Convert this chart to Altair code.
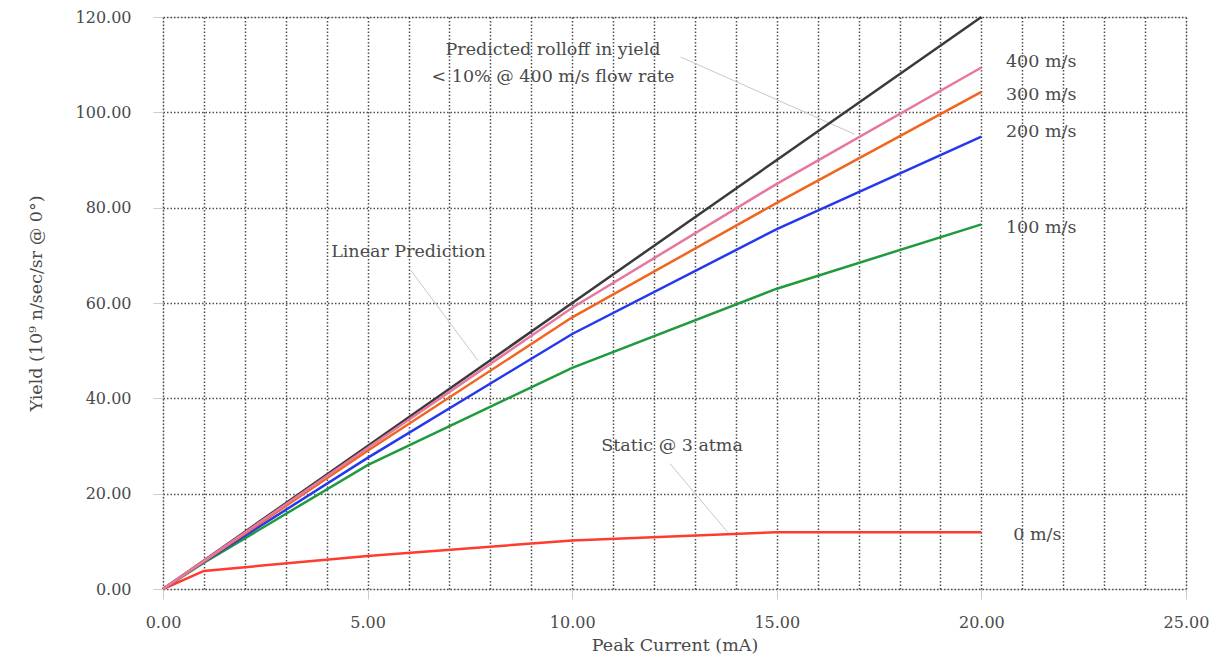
import altair as alt
import pandas as pd

# ---- data ----
current = [0, 1, 5, 10, 15, 20]
linear = [0, 6.0, 30.0, 60.0, 90.0, 120.0]
v400 = [0, 5.9, 29.6, 59.0, 85.0, 109.4]
v300 = [0, 5.8, 29.0, 57.0, 81.0, 104.3]
v200 = [0, 5.7, 27.5, 53.5, 75.5, 94.9]
v100 = [0, 5.5, 26.0, 46.4, 63.0, 76.5]
v0 = [0, 3.8, 6.9, 10.2, 11.9, 11.9]

series_names = ["Linear", "0 m/s", "100 m/s", "200 m/s", "300 m/s", "400 m/s"]
series_vals = [linear, v0, v100, v200, v300, v400]
series_colors = ["#3a3a3a", "#ff3b30", "#1f9a3c", "#2438ee", "#f0661e", "#e8779f"]

rows = []
for name, vals in zip(series_names, series_vals):
    for x, y in zip(current, vals):
        rows.append({"series": name, "x": x, "y": y})
df = pd.DataFrame(rows)

# right-hand series labels
lab_text = ["400 m/s", "300 m/s", "200 m/s", "100 m/s", "0 m/s"]
lab_x = [20.6, 20.6, 20.6, 20.6, 20.78]
lab_y = [110.6, 103.7, 95.8, 75.7, 11.3]
labels_df = pd.DataFrame({"t": lab_text, "x": lab_x, "y": lab_y})

# annotations (centred text)
ann_text = ["Predicted rolloff in yield", "< 10% @ 400 m/s flow rate",
            "Linear Prediction", "Static @ 3 atma"]
ann_x = [9.53, 9.53, 6.0, 12.44]
ann_y = [113.1, 107.4, 70.7, 29.9]
ann_df = pd.DataFrame({"t": ann_text, "x": ann_x, "y": ann_y})

# leader lines
lead_x = [12.65, 6.06, 12.39]
lead_y = [111.6, 66.8, 26.3]
lead_x2 = [16.9, 7.7, 13.8]
lead_y2 = [95.4, 47.9, 11.9]
lead_df = pd.DataFrame({"x": lead_x, "y": lead_y, "x2": lead_x2, "y2": lead_y2})

FONT = "DejaVu Serif"
TXT = "#4a4a4a"
GRID = "#4d4d4d"

xscale = alt.Scale(domain=[0, 25], nice=False)
yscale = alt.Scale(domain=[0, 120], nice=False)

xaxis = alt.Axis(
    title="Peak Current (mA)",
    values=list(range(0, 26)),
    labelExpr="datum.value % 5 === 0 ? format(datum.value, '.2f') : ''",
    labelFlush=False,
    grid=True, gridColor=GRID, gridDash=[1.5, 2], gridWidth=1.5,
    domain=False,
    tickColor="#cccccc", tickSize=10,
    tickOpacity={"condition": {"test": "datum.value % 5 === 0", "value": 1}, "value": 0},
    labelFont=FONT, labelFontSize=16, labelColor=TXT, labelPadding=15,
    titleFont=FONT, titleFontSize=17.5, titleColor=TXT, titleFontWeight="normal",
    titlePadding=6,
)
yaxis = alt.Axis(
    title="Yield (10⁹ n/sec/sr @ 0°)",
    values=list(range(0, 121, 20)),
    format=".2f",
    labelFlush=False,
    grid=True, gridColor=GRID, gridDash=[1.5, 2], gridWidth=1.5,
    domain=False,
    tickColor="#cccccc", tickSize=10,
    labelFont=FONT, labelFontSize=16, labelColor=TXT, labelPadding=22,
    titleFont=FONT, titleFontSize=17.5, titleColor=TXT, titleFontWeight="normal",
    titlePadding=30,
)

lines = alt.Chart(df).mark_line(strokeWidth=2.5).encode(
    x=alt.X("x:Q", scale=xscale, axis=xaxis),
    y=alt.Y("y:Q", scale=yscale, axis=yaxis),
    color=alt.Color("series:N", scale=alt.Scale(domain=series_names, range=series_colors), legend=None),
)

leaders = alt.Chart(lead_df).mark_rule(color="#c8c8c8", strokeWidth=1).encode(
    x=alt.X("x:Q", scale=xscale), y=alt.Y("y:Q", scale=yscale),
    x2="x2:Q", y2="y2:Q",
)

labels = alt.Chart(labels_df).mark_text(
    align="left", baseline="middle", font=FONT, fontSize=17.5, color=TXT
).encode(x=alt.X("x:Q", scale=xscale), y=alt.Y("y:Q", scale=yscale), text="t:N")

ann = alt.Chart(ann_df).mark_text(
    align="center", baseline="middle", font=FONT, fontSize=17.5, color=TXT
).encode(x=alt.X("x:Q", scale=xscale), y=alt.Y("y:Q", scale=yscale), text="t:N")

chart = alt.layer(leaders, lines, labels, ann).properties(
    width=1023, height=572,
    autosize=alt.AutoSizeParams(type="none"),
    padding={"left": 155, "top": 9, "right": 24, "bottom": 66},
).configure_view(stroke=None).configure(background="white")

chart.save("out.html", embed_options={"renderer": "svg", "actions": False})
